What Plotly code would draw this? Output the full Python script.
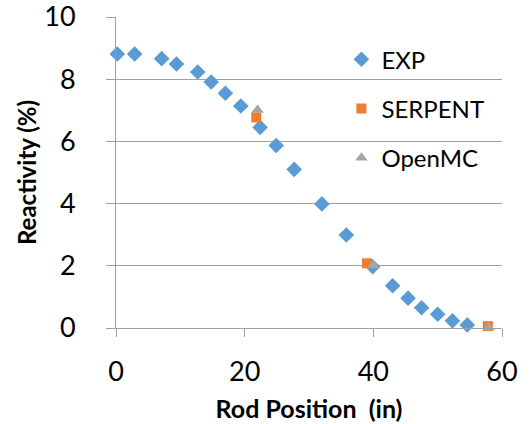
import plotly.graph_objects as go

# Measured control-rod worth curve (experiment) and Monte Carlo results
exp_pos = [0.2, 2.9, 7.1, 9.4, 12.7, 14.8, 17.0, 19.4, 22.4, 24.9, 27.7,
           32.0, 35.8, 39.9, 43.0, 45.4, 47.5, 50.0, 52.3, 54.6]
exp_rho = [8.81, 8.81, 8.66, 8.49, 8.23, 7.91, 7.55, 7.14, 6.45, 5.87, 5.10,
           3.99, 2.99, 1.97, 1.36, 0.96, 0.65, 0.44, 0.23, 0.10]

serpent_pos = [21.8, 39.0, 57.8]
serpent_rho = [6.77, 2.08, 0.06]

openmc_pos = [22.0, 40.0, 57.9]
openmc_rho = [7.01, 2.01, 0.02]

x_ticks = [0, 20, 40, 60]
y_ticks = [0, 2, 4, 6, 8, 10]

FONT = "Lato"
GRID = "#a0a0a0"

fig = go.Figure()
fig.add_trace(go.Scatter(
    x=exp_pos, y=exp_rho, mode="markers", name="EXP", legendgroup="a",
    marker=dict(symbol="diamond", size=12, color="#5B9BD5"), cliponaxis=False))
fig.add_trace(go.Scatter(
    x=serpent_pos, y=serpent_rho, mode="markers", name="SERPENT", legendgroup="b",
    marker=dict(symbol="square", size=10, color="#ED7D31"), cliponaxis=False))
fig.add_trace(go.Scatter(
    x=openmc_pos, y=openmc_rho, mode="markers", name="OpenMC", legendgroup="c",
    marker=dict(symbol="triangle-up", size=11, color="#A5A5A5"), cliponaxis=False))

fig.update_layout(
    width=531, height=424,
    margin=dict(l=116, r=29, t=17, b=96, autoexpand=False),
    paper_bgcolor="white", plot_bgcolor="white",
    font=dict(family=FONT, size=26, color="#000000"),
    showlegend=True,
    legend=dict(x=0.584, y=0.935, xanchor="left", yanchor="top",
                font=dict(family=FONT, size=24, color="#000000"),
                tracegroupgap=15, bgcolor="rgba(0,0,0,0)"),
    xaxis=dict(range=[0, 60], tickvals=x_ticks, showgrid=False, zeroline=False,
               showline=True, linecolor=GRID, linewidth=1,
               ticks="outside", ticklen=8, tickcolor=GRID,
               ticklabelstandoff=12, ticklabeloverflow="allow",
               automargin=False,
               tickfont=dict(family=FONT, size=27),
               title=dict(text="<b>Rod Position\u00a0 (in)</b>",
                          font=dict(family=FONT, size=25), standoff=14)),
    yaxis=dict(range=[0, 10], tickvals=y_ticks, showgrid=True, gridcolor=GRID,
               gridwidth=1, zeroline=False,
               showline=True, linecolor=GRID, linewidth=1,
               ticks="outside", ticklen=9, tickcolor=GRID,
               ticklabelstandoff=25, ticklabeloverflow="allow",
               automargin=False,
               tickfont=dict(family=FONT, size=27),
               title=dict(text="<b>Reactivity (%)</b>",
                          font=dict(family=FONT, size=24), standoff=0)),
)

fig.write_html("out.html")
